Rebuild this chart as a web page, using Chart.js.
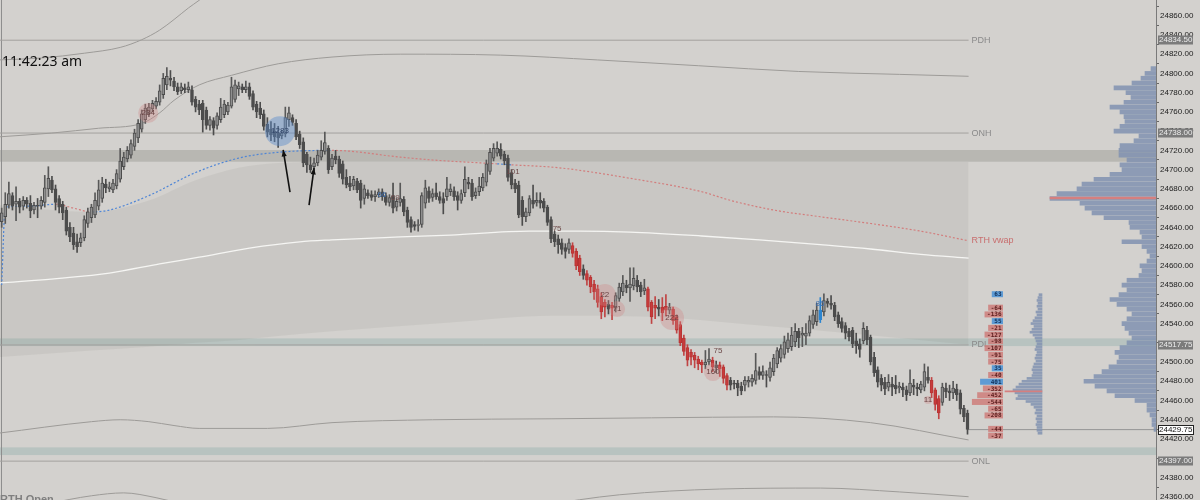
<!DOCTYPE html>
<html>
<head>
<meta charset="utf-8">
<script src="https://cdn.jsdelivr.net/npm/chart.js@4.4.1/dist/chart.umd.min.js"></script>
<style>
  html, body { margin: 0; padding: 0; background: #d3d1ce; }
  #wrap { position: relative; width: 1200px; height: 500px; }
</style>
</head>
<body>
<div id="wrap"><canvas id="chart"></canvas></div>
<script>
// one-minute-ish candles, oldest first
var open = [
  24646,24651,24663,24673,24664,24667,24662,24668,24665,24658,
  24663,24662,24666,24680,24689,24680,24670,24664,24658,24640,
  24634,24625,24624,24629,24644,24650,24653,24662,24670,24685,
  24680,24679,24683,24690,24703,24711,24715,24724,24733,24742,
  24752,24758,24763,24766,24770,24778,24788,24795,24792,24786,
  24782,24785,24783,24783,24773,24768,24769,24762,24746,24751,
  24746,24752,24757,24760,24766,24773,24784,24786,24783,24786,
  24779,24768,24764,24758,24747,24742,24740,24738,24735,24737,
  24752,24754,24748,24737,24729,24716,24705,24703,24707,24713,
  24719,24722,24703,24714,24711,24706,24692,24686,24683,24688,
  24686,24670,24676,24674,24672,24674,24677,24673,24666,24673,
  24661,24666,24669,24658,24648,24643,24642,24643,24665,24678,
  24671,24676,24672,24670,24672,24677,24678,24673,24668,24676,
  24687,24686,24673,24677,24681,24687,24698,24712,24717,24721,
  24716,24712,24697,24686,24684,24668,24651,24655,24668,24666,
  24668,24667,24661,24648,24633,24628,24624,24619,24617,24621,
  24615,24608,24597,24592,24588,24581,24576,24568,24562,24560,
  24559,24556,24566,24573,24580,24577,24579,24585,24580,24574,
  24576,24562,24556,24557,24557,24558,24554,24555,24547,24539,
  24525,24515,24510,24507,24503,24500,24497,24500,24502,24497,
  24497,24495,24486,24481,24478,24478,24475,24476,24479,24479,
  24481,24490,24486,24487,24484,24490,24498,24504,24508,24514,
  24516,24521,24532,24528,24527,24530,24539,24542,24544,24552,
  24563,24561,24559,24549,24542,24538,24532,24533,24522,24519,
  24522,24533,24526,24505,24492,24483,24479,24474,24477,24476,
  24473,24474,24471,24468,24476,24474,24471,24474,24484,24481,
  24471,24462,24458,24473,24470,24468,24472,24468,24452,24447
];
var high = [
  24660,24676,24687,24676,24682,24670,24672,24671,24673,24666,
  24670,24672,24694,24703,24693,24684,24673,24667,24661,24645,
  24640,24633,24634,24652,24660,24664,24676,24689,24692,24690,
  24687,24690,24700,24722,24718,24724,24731,24742,24752,24762,
  24768,24769,24772,24775,24788,24800,24806,24803,24796,24790,
  24790,24789,24791,24787,24776,24772,24772,24765,24755,24754,
  24759,24774,24772,24770,24796,24793,24791,24789,24792,24790,
  24782,24771,24770,24762,24754,24750,24748,24745,24741,24765,
  24765,24757,24752,24740,24733,24718,24713,24712,24720,24730,
  24739,24725,24716,24720,24714,24709,24700,24693,24693,24691,
  24689,24684,24679,24678,24678,24680,24680,24676,24674,24686,
  24670,24686,24672,24661,24651,24646,24648,24676,24689,24682,
  24680,24686,24677,24676,24692,24685,24682,24677,24679,24703,
  24692,24690,24681,24692,24696,24710,24722,24727,24729,24727,
  24719,24715,24700,24690,24688,24672,24660,24673,24684,24676,
  24676,24670,24663,24651,24636,24632,24628,24623,24628,24624,
  24618,24611,24601,24595,24590,24585,24580,24572,24565,24564,
  24562,24572,24582,24590,24585,24598,24598,24590,24583,24586,
  24578,24564,24568,24565,24567,24570,24561,24557,24549,24542,
  24528,24518,24513,24510,24506,24502,24512,24514,24505,24501,
  24500,24497,24488,24484,24481,24481,24479,24485,24485,24487,
  24509,24495,24496,24491,24500,24508,24515,24518,24527,24530,
  24536,24540,24535,24536,24540,24548,24554,24561,24567,24571,
  24566,24569,24562,24552,24546,24541,24535,24536,24530,24524,
  24541,24537,24528,24510,24495,24487,24484,24487,24484,24486,
  24479,24478,24475,24492,24482,24478,24480,24498,24495,24484,
  24473,24465,24478,24478,24476,24480,24477,24471,24455,24450
];
var low = [
  24640,24644,24660,24658,24647,24655,24658,24660,24650,24654,
  24650,24659,24661,24672,24676,24658,24655,24648,24632,24625,
  24617,24614,24620,24626,24640,24645,24650,24658,24666,24676,
  24677,24676,24680,24687,24700,24708,24712,24720,24728,24739,
  24748,24755,24760,24763,24767,24774,24783,24787,24782,24778,
  24779,24780,24780,24767,24760,24757,24739,24742,24741,24736,
  24742,24749,24754,24757,24764,24770,24777,24780,24780,24773,
  24762,24754,24753,24741,24734,24730,24729,24723,24732,24734,
  24745,24746,24731,24722,24703,24697,24697,24699,24704,24710,
  24716,24696,24700,24706,24692,24685,24681,24678,24679,24676,
  24660,24664,24670,24668,24667,24671,24668,24663,24662,24655,
  24657,24662,24652,24640,24635,24637,24636,24640,24660,24666,
  24667,24669,24665,24654,24668,24673,24668,24658,24665,24672,
  24680,24668,24670,24673,24678,24683,24695,24709,24714,24711,
  24705,24688,24680,24676,24650,24642,24646,24652,24660,24662,
  24660,24656,24642,24624,24620,24613,24612,24608,24613,24609,
  24596,24590,24586,24580,24572,24565,24557,24545,24547,24550,
  24544,24552,24563,24569,24572,24563,24575,24573,24568,24570,
  24553,24540,24545,24548,24543,24548,24550,24539,24530,24517,
  24507,24496,24497,24494,24492,24489,24493,24497,24490,24489,
  24485,24478,24471,24471,24472,24465,24466,24470,24474,24475,
  24477,24482,24482,24474,24480,24486,24494,24500,24504,24510,
  24512,24516,24515,24516,24518,24527,24535,24538,24541,24548,
  24557,24555,24543,24536,24531,24524,24522,24515,24509,24505,
  24519,24518,24497,24485,24474,24470,24466,24470,24465,24467,
  24468,24464,24460,24465,24466,24465,24468,24470,24478,24463,
  24450,24441,24455,24463,24460,24462,24460,24446,24438,24425
];
var close = [
  24655,24664,24675,24662,24667,24661,24668,24664,24657,24663,
  24662,24668,24681,24691,24679,24666,24661,24655,24636,24630,
  24622,24620,24629,24648,24656,24661,24668,24679,24686,24681,
  24682,24686,24696,24709,24713,24720,24727,24738,24748,24758,
  24764,24765,24769,24771,24782,24795,24797,24793,24786,24781,
  24786,24783,24786,24770,24765,24762,24752,24746,24752,24743,
  24756,24765,24768,24767,24786,24788,24787,24783,24786,24776,
  24765,24760,24757,24745,24739,24736,24734,24733,24738,24754,
  24759,24749,24734,24726,24707,24705,24700,24707,24715,24720,
  24728,24700,24712,24710,24696,24690,24684,24682,24690,24679,
  24668,24680,24673,24671,24674,24677,24672,24666,24671,24660,
  24667,24670,24656,24645,24640,24641,24643,24673,24681,24670,
  24675,24672,24668,24665,24680,24680,24672,24668,24675,24690,
  24685,24672,24677,24683,24692,24706,24718,24722,24722,24714,
  24709,24692,24684,24680,24653,24651,24656,24670,24664,24668,
  24665,24660,24645,24628,24625,24622,24617,24615,24624,24613,
  24600,24594,24590,24585,24578,24573,24562,24552,24557,24555,
  24556,24569,24578,24582,24577,24581,24587,24578,24573,24577,
  24557,24547,24559,24555,24551,24554,24557,24543,24533,24520,
  24511,24502,24505,24502,24498,24497,24500,24503,24495,24494,
  24493,24483,24476,24476,24477,24473,24470,24481,24481,24483,
  24491,24486,24490,24486,24494,24504,24512,24514,24521,24523,
  24528,24532,24525,24530,24530,24543,24549,24554,24554,24564,
  24561,24559,24547,24540,24535,24530,24526,24519,24517,24513,
  24535,24523,24500,24489,24479,24476,24472,24479,24474,24472,
  24475,24471,24466,24478,24474,24472,24477,24490,24481,24468,
  24456,24447,24474,24469,24468,24473,24466,24451,24443,24430
];
// bars painted red / blue by the platform
var redBars = [159,160,161,163,164,165,166,167,168,170,180,181,182,184,185,187,188,189,190,191,192,193,194,195,198,200,201,202,259,260,261];
var blueBars = [228];

// 24400 and 24520 sit under the PDL / ONL price boxes
var yTicks = [24360,24380,24420,24440,24460,24480,24500,24540,24560,24580,24600,24620,24640,24660,24680,24700,24720,24740,24760,24780,24800,24820,24840,24860];

// [bar index, price]
var upperBand2 = [[-1,24814],[11,24816],[23,24821],[33,24827],[39,24835],[44,24845],[48,24856],[52,24868],[55,24876],[58,24885]];
var upperBand1 = [[-1,24734],[14,24738],[27,24743],[39,24748],[44,24759],[48,24772],[55,24788],[64,24798],[77,24810],[92,24817],[111,24820],[139,24819],[166,24814],[194,24808],[222,24802],[250,24799],[269.3,24797]];
var whiteLine = [[-1,24582],[16,24587],[30,24592.5],[44,24602],[55,24609],[69,24618.5],[83,24625],[92,24627],[111,24630],[125,24632],[147,24636],[161,24636],[175,24635],[195,24631],[211,24627],[228,24622],[242,24617.5],[256,24612],[269.3,24608]];
var lowerBand1 = [[-1,24426],[25,24438],[33,24440],[41,24438],[48,24434],[55,24431],[74,24431],[92,24437],[120,24440],[153,24441],[181,24442],[215,24443],[242,24437],[269.3,24419]];
var lowerBand2 = [[13,24353],[25,24361],[34,24364],[43,24359],[52,24351],[100,null],[150,24351],[172,24362],[200,24368],[228,24369],[250,24365],[269.3,24360]];
var vwapX = [0,1,8,15,20,25,30,41,54,66,77,92,111,120,138,142,155,175,195,203,215,228,242,256,269.3];
var vwapY = [24580,24661,24662,24664,24660,24656,24658,24673,24697,24712,24718,24720,24713,24710,24706,24705,24702,24691,24677,24668,24658,24651,24644,24636,24626];
var vwapSide = ['b','b','b','r','r','b','b','b','b','b','b','r','r','r','b','r','r','r','r','r','r','r','r','r','r'];
var shadeX = [-1,25,41,54,66,77,92,125,153,181,208,236,269.3];
var shadeTop = [24663,24656,24668,24689,24702,24707,24708,24708,24708,24708,24708,24708,24708];
var shadeBottom = [24505,24512,24516,24520,24523,24527,24532,24541,24548,24547,24539,24530,24518];

var levels = [['PDH',24834.5],['ONH',24738],['PDL',24517.75],['ONL',24397]];
var zones = [[24708.2,24720.4],[24516.6,24524.6],[24403.3,24411.3]];
var lastPrice = 24429.75;

// volume profile: [price, volume]
var profile = [[24805,5],[24800,11],[24795,15],[24790,24],[24785,42],[24780,30],[24775,25],[24770,32],[24765,46],[24760,36],[24755,32],[24750,31],[24745,36],[24740,42],[24735,17],[24730,22],[24725,36],[24720,37],[24715,37],[24710,29],[24705,36],[24700,34],[24695,46],[24690,62],[24685,74],[24680,79],[24675,99],[24670,106],[24665,76],[24660,71],[24655,64],[24650,52],[24645,27],[24640,26],[24635,16],[24630,14],[24625,34],[24620,14],[24615,9],[24610,6],[24605,9],[24600,16],[24595,14],[24590,17],[24585,29],[24580,34],[24575,29],[24570,37],[24565,46],[24560,39],[24555,29],[24550,24],[24545,29],[24540,34],[24535,31],[24530,27],[24525,24],[24520,29],[24515,36],[24510,41],[24505,37],[24500,39],[24495,47],[24490,54],[24485,62],[24480,72],[24475,61],[24470,49],[24465,41],[24460,21],[24455,9],[24450,9],[24445,6],[24440,4],[24435,4],[24430,2]];
var profilePoc = [24670.5, 106];
var recentProfile = [[24570,3],[24567,4],[24564,5],[24561,4],[24558,5],[24555,4],[24552,6],[24549,5],[24546,7],[24543,9],[24540,11],[24537,8],[24534,10],[24531,12],[24528,9],[24525,7],[24522,6],[24519,5],[24516,6],[24513,7],[24510,5],[24507,6],[24504,7],[24501,6],[24498,8],[24495,9],[24492,10],[24489,9],[24486,10],[24483,15],[24480,20],[24477,23],[24474,26],[24471,29],[24468,27],[24465,24],[24462,26],[24459,16],[24456,11],[24453,8],[24450,6],[24447,7],[24444,5],[24441,6],[24438,5],[24435,6],[24432,5],[24429,5],[24426,4]];
var recentPoc = [24469.5, 37];

var deltaPrices = [24570.5,24556.5,24549.5,24542.5,24535.5,24528.5,24521.5,24514.5,24507.5,24500.5,24493.5,24486.5,24479.5,24472.5,24465.5,24458.5,24451.5,24444.5,24430.5,24423.5];
var deltaValues = [63,-64,-136,55,-21,-127,-98,-107,-91,-75,35,-40,401,-352,-452,-544,-65,-208,-44,-37];

// big trade bubbles: [bar index, price, radius, text, side]
var bubbles = [[40.8,24758.8,10,'234','r'],[77.5,24740,15,'1283','b'],[168,24569.6,11,'22','r'],[171.4,24555,8,'71','r'],[186.7,24545.7,12,'222','r'],[198.1,24489.6,9,'160','r'],[258,24460.5,4,'11','r']];
var notes = [[105.9,24673.6,'66','b'],[109.6,24670.5,'69','r'],[142.4,24697.5,'101','r'],[154.7,24638.3,'75','r'],[199.5,24511.4,'75','r'],[227.9,24560.3,'86','b']];
var arrows = [[80.3,24676.7,78.4,24720.4],[85.6,24663.2,87,24701.7]];

Chart.defaults.font.family = '"Liberation Sans", Arial, sans-serif';

function candleKind(i) {
  if (redBars.indexOf(i) >= 0) return 'red';
  if (blueBars.indexOf(i) >= 0) return 'blue';
  return close[i] >= open[i] ? 'up' : 'down';
}
var bodyFill = { up: '#8f8f8f', down: '#4c4c4c', red: '#c83b3b', blue: '#2c84cf' };
var bodyEdge = { up: '#4c4c4c', down: '#4c4c4c', red: '#b73434', blue: '#2c84cf' };
var wickCol = { up: '#585858', down: '#4c4c4c', red: '#c04444', blue: '#2c84cf' };

function pts(list) {
  return list.map(function (p) { return { x: p[0], y: p[1] }; });
}
function lineDs(data, color, width, order) {
  return { type: 'line', xAxisID: 'x', yAxisID: 'y', data: data, borderColor: color, borderWidth: width,
    pointRadius: 0, cubicInterpolationMode: 'monotone', fill: false, order: order };
}
function profileDs(rows, axis, thick, color, order) {
  return { type: 'bar', indexAxis: 'y', xAxisID: axis, yAxisID: 'y', order: order, grouped: false, barThickness: thick,
    data: rows.map(function (p) { return { x: [0, p[1]], y: p[0] }; }), backgroundColor: color };
}

var datasets = [];
// shaded value area
datasets.push({ type: 'line', xAxisID: 'x', yAxisID: 'y', order: 20, pointRadius: 0, borderWidth: 0,
  cubicInterpolationMode: 'monotone', fill: '+1', backgroundColor: 'rgba(120,114,104,0.10)',
  data: shadeX.map(function (x, i) { return { x: x, y: shadeTop[i] }; }) });
datasets.push({ type: 'line', xAxisID: 'x', yAxisID: 'y', order: 20, pointRadius: 0, borderWidth: 0,
  cubicInterpolationMode: 'monotone', fill: false,
  data: shadeX.map(function (x, i) { return { x: x, y: shadeBottom[i] }; }) });

levels.forEach(function (l) {
  datasets.push(lineDs([{ x: -1, y: l[1] }, { x: 269.3, y: l[1] }], '#a3a19e', 1, 9));
});
datasets.push(lineDs([{ x: 269, y: lastPrice }, { x: 330, y: lastPrice }], '#959595', 1, 9));
datasets.push(lineDs(pts(upperBand2), '#9d9b98', 1, 8));
datasets.push(lineDs(pts(upperBand1), '#9d9b98', 1, 8));
datasets.push(lineDs(pts(lowerBand1), '#9d9b98', 1, 8));
datasets.push(lineDs(pts(lowerBand2), '#9d9b98', 1, 8));
datasets.push(lineDs(pts(whiteLine), '#f5f5f3', 1.3, 8));
var vwapDs = lineDs(vwapX.map(function (x, i) { return { x: x, y: vwapY[i] }; }), '#d07c7c', 1.2, 7);
vwapDs.borderDash = [2, 2];
vwapDs.segment = { borderColor: function (c) { return vwapSide[c.p0DataIndex] === 'r' ? '#d27d7d' : '#4f86d6'; } };
datasets.push(vwapDs);

// volume profiles (session + recent), POC drawn as a thin red row on top
datasets.push(profileDs(profile, 'xp', 4, 'rgba(128,146,176,0.85)', 6));
datasets.push(profileDs([profilePoc], 'xp', 2, '#d57f7f', 5));
datasets.push(profileDs(recentProfile, 'xp2', 2, 'rgba(128,146,176,0.85)', 6));
datasets.push(profileDs([recentPoc], 'xp2', 1, '#d57f7f', 5));

// candles: wick + body
datasets.push({ type: 'bar', xAxisID: 'x', yAxisID: 'y', order: 3, grouped: false, barThickness: 1,
  data: open.map(function (o, i) { return { x: i, y: [low[i], high[i]] }; }),
  backgroundColor: function (c) { return wickCol[candleKind(c.dataIndex)]; } });
datasets.push({ type: 'bar', xAxisID: 'x', yAxisID: 'y', order: 2, grouped: false, barThickness: 3,
  borderSkipped: false, borderWidth: 1,
  data: open.map(function (o, i) { return { x: i, y: [o, close[i]] }; }),
  backgroundColor: function (c) { return bodyFill[candleKind(c.dataIndex)]; },
  borderColor: function (c) { return bodyEdge[candleKind(c.dataIndex)]; } });

datasets.push({ type: 'bubble', xAxisID: 'x', yAxisID: 'y', order: 1,
  data: bubbles.map(function (b) { return { x: b[0], y: b[1], r: b[2] }; }),
  backgroundColor: function (c) { return bubbles[c.dataIndex][4] === 'b' ? 'rgba(92,140,205,0.45)' : 'rgba(205,135,135,0.35)'; },
  borderWidth: 0 });

function drawArrow(ctx, x1, y1, x2, y2) {
  var ang = Math.atan2(y2 - y1, x2 - x1), h = 7;
  ctx.beginPath(); ctx.moveTo(x1, y1); ctx.lineTo(x2, y2); ctx.stroke();
  ctx.beginPath(); ctx.moveTo(x2, y2);
  ctx.lineTo(x2 - h * Math.cos(ang - 0.38), y2 - h * Math.sin(ang - 0.38));
  ctx.lineTo(x2 - h * Math.cos(ang + 0.38), y2 - h * Math.sin(ang + 0.38));
  ctx.closePath(); ctx.fill();
}

var overlay = {
  id: 'overlay',
  beforeDatasetsDraw: function (chart) {
    var ctx = chart.ctx, a = chart.chartArea, y = chart.scales.y, x = chart.scales.x;
    ctx.save();
    zones.forEach(function (z, i) {
      var top = y.getPixelForValue(z[1]), bot = y.getPixelForValue(z[0]);
      ctx.fillStyle = i === 0 ? '#b8b7b2' : '#b8c3c0';
      ctx.fillRect(a.left, top, a.right - a.left, bot - top);
    });
    // session open separator
    var sx = Math.round(x.getPixelForValue(-0.3)) + 0.5;
    ctx.strokeStyle = '#8e8e8e'; ctx.lineWidth = 1;
    ctx.beginPath(); ctx.moveTo(sx, a.top); ctx.lineTo(sx, a.bottom); ctx.stroke();
    ctx.restore();
  },
  afterDatasetsDraw: function (chart) {
    var ctx = chart.ctx, a = chart.chartArea, y = chart.scales.y, x = chart.scales.x;
    ctx.save();
    var lx = x.getPixelForValue(269.3) + 3;
    ctx.font = '9px "Liberation Sans"';
    ctx.textBaseline = 'middle'; ctx.textAlign = 'left';
    levels.forEach(function (l) {
      ctx.fillStyle = '#8a8a8a';
      ctx.fillText(l[0], lx, y.getPixelForValue(l[1]));
    });
    ctx.fillStyle = '#c86e6e';
    ctx.fillText('RTH vwap', lx, y.getPixelForValue(vwapY[vwapY.length - 1]));

    // bubble and note texts
    ctx.font = '8px "Liberation Sans"'; ctx.textAlign = 'center';
    bubbles.forEach(function (b) {
      ctx.fillStyle = b[4] === 'b' ? '#34476a' : '#6a4444';
      ctx.fillText(b[3], x.getPixelForValue(b[0]), y.getPixelForValue(b[1]));
    });
    notes.forEach(function (n) {
      ctx.fillStyle = n[3] === 'b' ? '#3d6eae' : '#6e4b4b';
      ctx.fillText(n[2], x.getPixelForValue(n[0]), y.getPixelForValue(n[1]));
    });

    ctx.strokeStyle = '#111'; ctx.fillStyle = '#111'; ctx.lineWidth = 1.6;
    arrows.forEach(function (r) {
      drawArrow(ctx, x.getPixelForValue(r[0]), y.getPixelForValue(r[1]), x.getPixelForValue(r[2]), y.getPixelForValue(r[3]));
    });

    // delta column
    var dr = a.right - 153;
    ctx.font = 'bold 6px "DejaVu Sans Mono"'; ctx.textAlign = 'right';
    deltaPrices.forEach(function (p, i) {
      var v = deltaValues[i], t = String(v), cy = y.getPixelForValue(p);
      var w = Math.max(ctx.measureText(t).width + 4, Math.abs(v) / 17.5);
      ctx.fillStyle = v > 0 ? '#5e9bd4' : 'rgba(206,126,122,0.85)';
      ctx.fillRect(dr - w, cy - 3, w, 6);
      ctx.fillStyle = v > 0 ? '#0f2f58' : '#5a1c1c';
      ctx.fillText(t, dr - 1.5, cy + 0.5);
    });

    ctx.textAlign = 'left'; ctx.textBaseline = 'alphabetic';
    ctx.fillStyle = '#111';
    ctx.font = '14px "Noto Sans"';
    ctx.fillText('11:42:23 am', 2, 66);
    ctx.fillStyle = '#7f7f7f';
    ctx.font = 'bold 11px "Liberation Sans"';
    ctx.fillText('RTH Open', 0, 503);
    ctx.restore();
  },
  afterDraw: function (chart) {
    var ctx = chart.ctx, a = chart.chartArea, y = chart.scales.y;
    ctx.save();
    ctx.font = '8px "Liberation Sans"'; ctx.textBaseline = 'middle'; ctx.textAlign = 'left';
    levels.forEach(function (l) {
      var cy = Math.round(y.getPixelForValue(l[1]));
      ctx.fillStyle = '#7b7b7b';
      ctx.fillRect(a.right + 2, cy - 4.5, 35, 9);
      ctx.fillStyle = '#ececec';
      ctx.fillText(l[1].toFixed(2), a.right + 3, cy);
    });
    var ly = Math.round(y.getPixelForValue(lastPrice));
    ctx.fillStyle = '#ffffff'; ctx.strokeStyle = '#222'; ctx.lineWidth = 1;
    ctx.fillRect(a.right + 2, ly - 4.5, 35, 9);
    ctx.strokeRect(a.right + 2.5, ly - 4.5, 35, 9);
    ctx.fillStyle = '#111';
    ctx.fillText(lastPrice.toFixed(2), a.right + 3, ly);
    ctx.restore();
  }
};

new Chart(document.getElementById('chart'), {
  type: 'line',
  data: { datasets: datasets },
  options: {
    responsive: true,
    maintainAspectRatio: false,
    animation: false,
    events: [],
    layout: { padding: 0, autoPadding: false },
    plugins: { legend: { display: false }, tooltip: { enabled: false } },
    scales: {
      x: { type: 'linear', min: -0.47, max: 321.5, display: false, offset: false },
      xp: { type: 'linear', axis: 'x', position: 'top', display: false, reverse: true, min: 0, max: 1156, offset: false },
      xp2: { type: 'linear', axis: 'x', position: 'top', display: false, reverse: true, min: -114, max: 1042, offset: false },
      y: {
        type: 'linear', position: 'right', min: 24356.6, max: 24876.3, offset: false,
        afterBuildTicks: function (s) { s.ticks = yTicks.map(function (v) { return { value: v }; }); },
        afterFit: function (s) { s.width = 44; s.paddingTop = 0; s.paddingBottom = 0; },
        ticks: { autoSkip: false, padding: 1, color: '#1c1c1c', font: { size: 8 },
          callback: function (v) { return Number(v).toFixed(2); } },
        grid: { drawOnChartArea: false, tickLength: 3, color: '#666' },
        border: { color: '#7a7a7a' }
      }
    }
  },
  plugins: [overlay]
});
</script>
</body>
</html>
